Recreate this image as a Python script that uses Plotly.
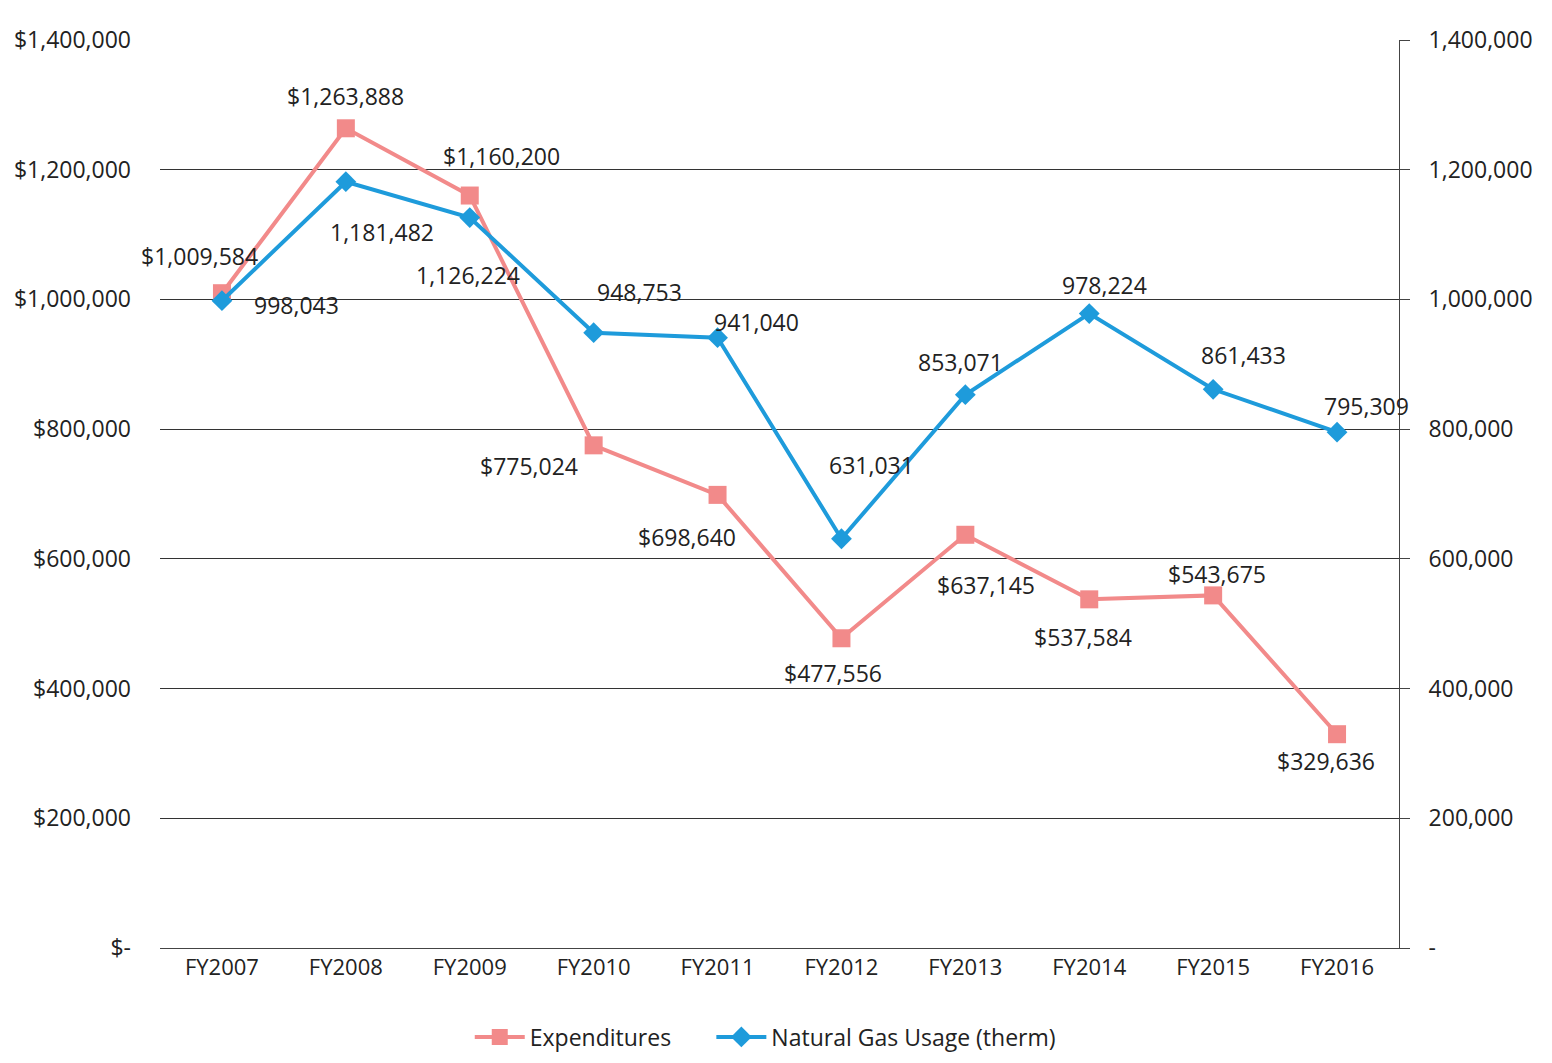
import plotly.graph_objects as go

years = ["FY2007", "FY2008", "FY2009", "FY2010", "FY2011",
         "FY2012", "FY2013", "FY2014", "FY2015", "FY2016"]
expenditures = [1009584, 1263888, 1160200, 775024, 698640,
                477556, 637145, 537584, 543675, 329636]
gas_usage = [998043, 1181482, 1126224, 948753, 941040,
             631031, 853071, 978224, 861433, 795309]

left_ticks = [0, 200000, 400000, 600000, 800000, 1000000, 1200000, 1400000]
left_labels = ["$-", "$200,000", "$400,000", "$600,000", "$800,000",
               "$1,000,000", "$1,200,000", "$1,400,000"]
right_labels = ["-", "200,000", "400,000", "600,000", "800,000",
                "1,000,000", "1,200,000", "1,400,000"]

# label offsets in pixels (dx, dy) from each point, dy up is positive
exp_off = [(-22, 37), (0, 32), (32, 40), (-65, -21), (-31, -42),
           (-8, -35), (21, -50), (-6, -38), (4, 21), (-11, -27)]
gas_off = [(75, -4), (36, -50), (-2, -57), (46, 41), (39, 16),
           (30, 74), (-5, 33), (15, 29), (30, 34), (29, 26)]

FONT = "Open Sans"
RED = "#F28A8A"
BLUE = "#1E9BDB"
TXT = "#222"

fig = go.Figure()

fig.add_trace(go.Scatter(
    x=years, y=expenditures,
    mode="lines+markers",
    name="Expenditures",
    line=dict(color=RED, width=4),
    marker=dict(symbol="square", size=18, color=RED),
    legend="legend",
))

fig.add_trace(go.Scatter(
    x=years, y=gas_usage,
    mode="lines+markers",
    name="Natural Gas Usage (therm)",
    line=dict(color=BLUE, width=4),
    marker=dict(symbol="diamond", size=16, color=BLUE),
    yaxis="y2",
    legend="legend2",
))

for yr, v, (dx, dy) in zip(years, expenditures, exp_off):
    fig.add_annotation(x=yr, y=v, xref="x", yref="y", text=f"${v:,}",
                       showarrow=False, xshift=dx, yshift=dy,
                       font=dict(size=23, color=TXT))
for yr, v, (dx, dy) in zip(years, gas_usage, gas_off):
    fig.add_annotation(x=yr, y=v, xref="x", yref="y2", text=f"{v:,}",
                       showarrow=False, xshift=dx, yshift=dy,
                       font=dict(size=23, color=TXT))

legend_style = dict(orientation="h", yanchor="middle", y=-0.098,
                    font=dict(size=23), itemwidth=50,
                    bgcolor="rgba(0,0,0,0)")

fig.update_layout(
    width=1552, height=1063,
    paper_bgcolor="white", plot_bgcolor="white",
    font=dict(family=FONT, size=23, color=TXT),
    margin=dict(l=152, r=161, t=32, b=113),
    xaxis=dict(
        range=[-0.5, len(years) - 0.5],
        showgrid=False, showline=True, linecolor="#444", linewidth=1,
        ticks="", tickfont=dict(size=22), automargin=False,
    ),
    yaxis=dict(
        range=[0, 1400000], tickvals=left_ticks, ticktext=left_labels,
        showgrid=True, gridcolor="#333", gridwidth=1, zeroline=False,
        showline=False, ticks="", ticklabelstandoff=28, automargin=False,
    ),
    yaxis2=dict(
        range=[0, 1400000], tickvals=left_ticks, ticktext=right_labels,
        overlaying="y", side="right", showgrid=False, zeroline=False,
        showline=True, linecolor="#444", linewidth=1,
        ticks="outside", ticklen=10, tickcolor="#444", ticklabelstandoff=14,
        automargin=False,
    ),
    legend=dict(legend_style, x=0.25, xanchor="left"),
    legend2=dict(legend_style, x=0.445, xanchor="left"),
    showlegend=True,
)

fig.write_html("out.html")
